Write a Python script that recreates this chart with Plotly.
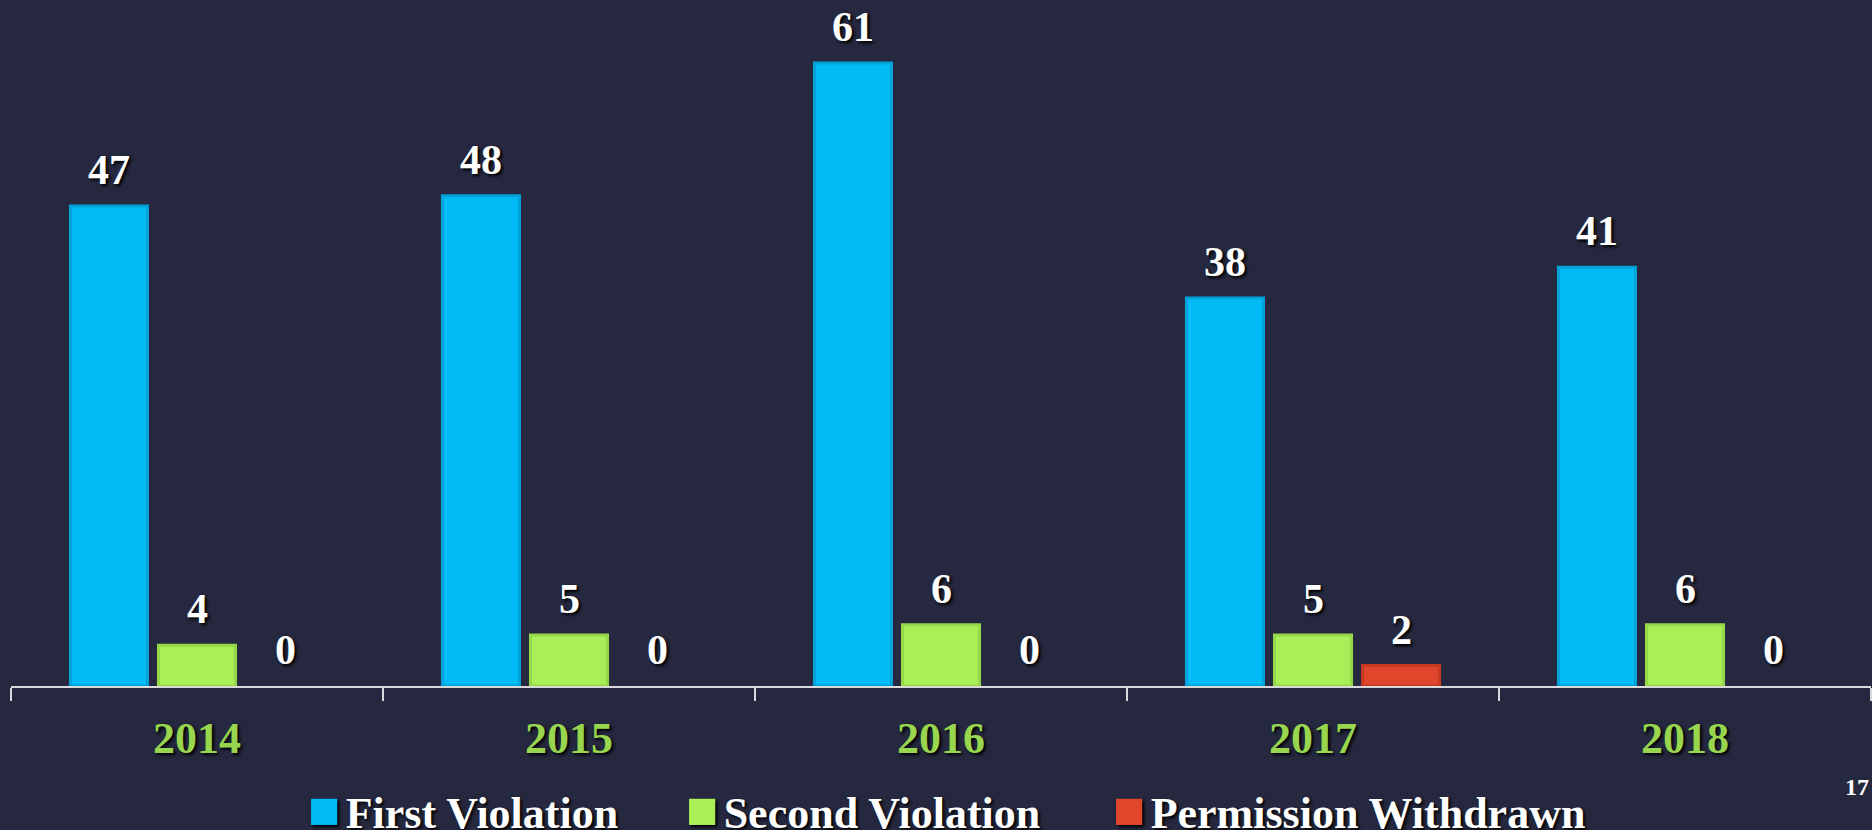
import plotly.graph_objects as go

years = ["2014", "2015", "2016", "2017", "2018"]
first_violation = [47, 48, 61, 38, 41]
second_violation = [4, 5, 6, 5, 6]
permission_withdrawn = [0, 0, 0, 2, 0]

series_names = ["First Violation", "Second Violation", "Permission Withdrawn"]
series_values = [first_violation, second_violation, permission_withdrawn]
series_colors = ["#00BBF4", "#AAEE58", "#E0462C"]
edge_colors = ["#00A3D9", "#94D84A", "#C83A22"]

FONT = "Liberation Serif"
BG = "#25283e"
SHADOW = "2px 2px 3px #000000"

fig = go.Figure()
for name, vals, col, edge in zip(series_names, series_values, series_colors, edge_colors):
    fig.add_trace(go.Bar(
        name=name, x=years, y=vals,
        marker=dict(color=col, line=dict(color=edge, width=[3 if v > 0 else 0 for v in vals])),
        showlegend=False,
        cliponaxis=False,
    ))

annotations = []
# value labels above each bar (category index + group offset in px)
offsets = [-88, 0, 88]
for vals, dx in zip(series_values, offsets):
    for i, v in enumerate(vals):
        annotations.append(dict(
            x=i, y=v, xref="x", yref="y", xshift=dx, yshift=11,
            xanchor="center", yanchor="bottom", showarrow=False, text=str(v),
            font=dict(family=FONT, size=42, color="white", weight="bold", shadow=SHADOW),
        ))

# legend built as text entries
legend_x = [0.1586, 0.3618, 0.5914]
for name, col, lx in zip(series_names, series_colors, legend_x):
    annotations.append(dict(
        x=lx, y=-0.181, xref="paper", yref="paper", xanchor="left", yanchor="middle",
        showarrow=False,
        text=(f"<span style='color:{col};font-size:54px'>■</span>"
              f"<span style='font-size:20px'> </span>{name}"),
        font=dict(family=FONT, size=44, color="white", weight="bold", shadow=SHADOW),
    ))

# page number
annotations.append(dict(
    text="17", xref="paper", yref="paper", x=1.0, y=-0.147,
    xanchor="right", yanchor="middle", showarrow=False,
    font=dict(family=FONT, size=24, color="white", weight="bold"),
))

fig.update_layout(
    width=1872, height=830,
    paper_bgcolor=BG, plot_bgcolor=BG,
    margin=dict(l=11, r=1, t=0, b=144),
    barmode="group", bargap=0.29, bargroupgap=0.125,
    showlegend=False,
    xaxis=dict(type="category", categoryorder="array", categoryarray=years,
               range=[-0.5, len(years) - 0.5],
               showline=True, linecolor="#d9d9d9", linewidth=2,
               ticks="outside", tickson="boundaries", ticklen=13,
               tickcolor="#d9d9d9", tickwidth=2, showgrid=False,
               tickfont=dict(family=FONT, size=44, color="#98D650", weight="bold",
                             shadow=SHADOW),
               ticklabelstandoff=12),
    yaxis=dict(range=[0, 67.17], visible=False, showgrid=False, zeroline=False),
    annotations=annotations,
)

fig.write_html("out.html", config={"displayModeBar": False},
               post_script="document.body.style.margin='0';document.body.style.overflow='hidden';")
